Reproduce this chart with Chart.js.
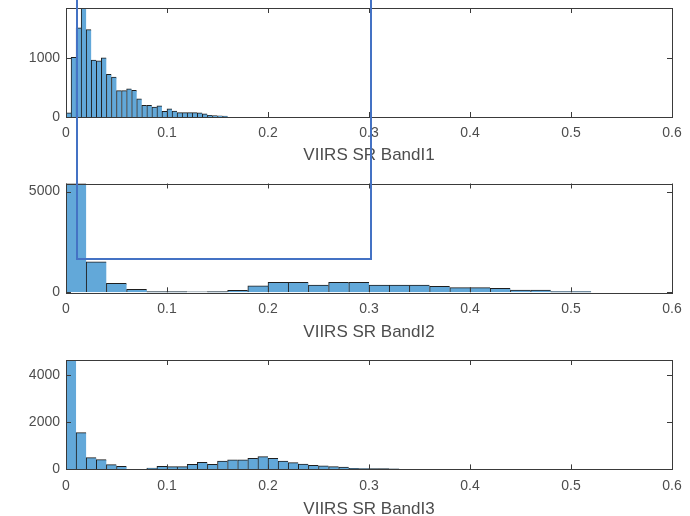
<!DOCTYPE html>
<html>
<head>
<meta charset="utf-8">
<script src="https://cdn.jsdelivr.net/npm/chart.js@4/dist/chart.umd.min.js"></script>
<style>
  html, body { margin: 0; padding: 0; background: #fff; overflow: hidden; width: 690px; height: 516px; }
  .panel { position: absolute; left: 0; width: 690px; }
  #zoomBox { position: absolute; left: 76px; top: -10px; width: 296px; height: 270px; box-sizing: border-box; border: 2px solid #4472c4; }
</style>
</head>
<body>
<canvas id="c1" class="panel" width="690" height="170" style="top:0px;height:170px"></canvas>
<canvas id="c2" class="panel" width="690" height="175" style="top:170px;height:175px"></canvas>
<canvas id="c3" class="panel" width="690" height="180" style="top:345px;height:180px"></canvas>
<div id="zoomBox"></div>
<script>
// histogram counts
const band1BinWidth = 0.005;
const band1Counts = [70, 1020, 1520, 1860, 1490, 970, 960, 1010, 730, 680, 450, 450, 480, 455, 310, 200,
                     200, 170, 190, 95, 140, 100, 75, 75, 75, 75, 70, 55, 30, 25, 20, 15];

const band2BinWidth = 0.02;
const band2Counts = [5400, 1515, 445, 150, 30, 30, 25, 30, 100, 325, 495, 495, 360, 495, 495, 360,
                     360, 360, 300, 230, 230, 200, 115, 115, 40, 40];

const band3BinWidth = 0.01;
const band3Counts = [4650, 1560, 500, 415, 200, 135, 0, 0, 60, 130, 120, 120, 220, 300, 220, 350,
                     410, 410, 470, 540, 470, 355, 285, 228, 172, 150, 115, 95, 45, 40, 35, 30, 25];

const xTicks = [0, 0.1, 0.2, 0.3, 0.4, 0.5, 0.6];
const yTicks = [[0, 1000], [0, 5000], [0, 2000, 4000]];
const yMaxes = [1860, 5400, 4650];
const titles = ['VIIRS SR BandI1', 'VIIRS SR BandI2', 'VIIRS SR BandI3'];

const textColor = '#4d4d4d';
const barFill = '#62a8d9';

// box around the axes with inward ticks, like matlab
const boxPlugin = {
    id: 'box',
    afterDraw(chart) {
        const { ctx, chartArea: a, scales } = chart;
        ctx.save();
        ctx.strokeStyle = '#3a3a3a';
        ctx.lineWidth = 1;
        ctx.strokeRect(Math.round(a.left) + 0.5, Math.round(a.top) + 0.5,
                       Math.round(a.right - a.left), Math.round(a.bottom - a.top));
        ctx.beginPath();
        scales.x.ticks.forEach(t => {
            const px = Math.round(scales.x.getPixelForValue(t.value)) + 0.5;
            ctx.moveTo(px, a.top); ctx.lineTo(px, a.top + 5);
            ctx.moveTo(px, a.bottom); ctx.lineTo(px, a.bottom - 5);
        });
        scales.y.ticks.forEach(t => {
            const py = Math.round(scales.y.getPixelForValue(t.value)) + 0.5;
            ctx.moveTo(a.left, py); ctx.lineTo(a.left + 5, py);
            ctx.moveTo(a.right, py); ctx.lineTo(a.right - 5, py);
        });
        ctx.stroke();
        ctx.restore();
    }
};

// per canvas layout: top padding, x axis height, title distance from bottom
const layouts = [
    { top: 8, xh: 53, tpad: 6 },
    { top: 13.5, xh: 52.7, tpad: 4 },
    { top: 15, xh: 55.6, tpad: 7 }
];

function makeHist(id, counts, binWidth, idx) {
    const points = counts.map((c, i) => ({ x: binWidth * (i + 0.5), y: c }));
    const lay = layouts[idx];
    return new Chart(document.getElementById(id), {
        type: 'bar',
        data: {
            datasets: [{
                data: points,
                backgroundColor: barFill,
                borderColor: '#1e1e1e',
                borderWidth: { left: 1, top: 1, right: 0, bottom: 0 },
                borderSkipped: false,
                barPercentage: 1,
                categoryPercentage: 1,
                grouped: false
            }]
        },
        options: {
            responsive: false,
            animation: false,
            events: [],
            layout: { padding: { top: lay.top, right: 18, left: 0, bottom: 0 } },
            plugins: { legend: { display: false }, tooltip: { enabled: false } },
            scales: {
                x: {
                    type: 'linear',
                    offset: false,
                    min: 0,
                    max: 0.6,
                    afterBuildTicks: s => { s.ticks = xTicks.map(v => ({ value: v })); },
                    afterFit: s => { s.height = lay.xh; },
                    grid: { display: false, drawTicks: false },
                    border: { display: false },
                    ticks: {
                        padding: 8,
                        color: textColor,
                        font: { family: 'Liberation Sans', size: 14 },
                        callback: v => String(+v.toFixed(1))
                    },
                    title: {
                        display: true,
                        text: titles[idx],
                        color: textColor,
                        font: { family: 'Liberation Sans', size: 17, lineHeight: 1 },
                        padding: { top: 0, bottom: lay.tpad }
                    }
                },
                y: {
                    min: 0,
                    max: yMaxes[idx],
                    afterBuildTicks: s => { s.ticks = yTicks[idx].map(v => ({ value: v })); },
                    afterFit: s => { s.width = 66; s.paddingTop = 0; s.paddingBottom = 0; },
                    grid: { display: false, drawTicks: false },
                    border: { display: false },
                    ticks: {
                        padding: 6,
                        color: textColor,
                        font: { family: 'Liberation Sans', size: 14 },
                        callback: v => String(v)
                    }
                }
            }
        },
        plugins: [boxPlugin]
    });
}

makeHist('c1', band1Counts, band1BinWidth, 0);
makeHist('c2', band2Counts, band2BinWidth, 1);
makeHist('c3', band3Counts, band3BinWidth, 2);
</script>
</body>
</html>
